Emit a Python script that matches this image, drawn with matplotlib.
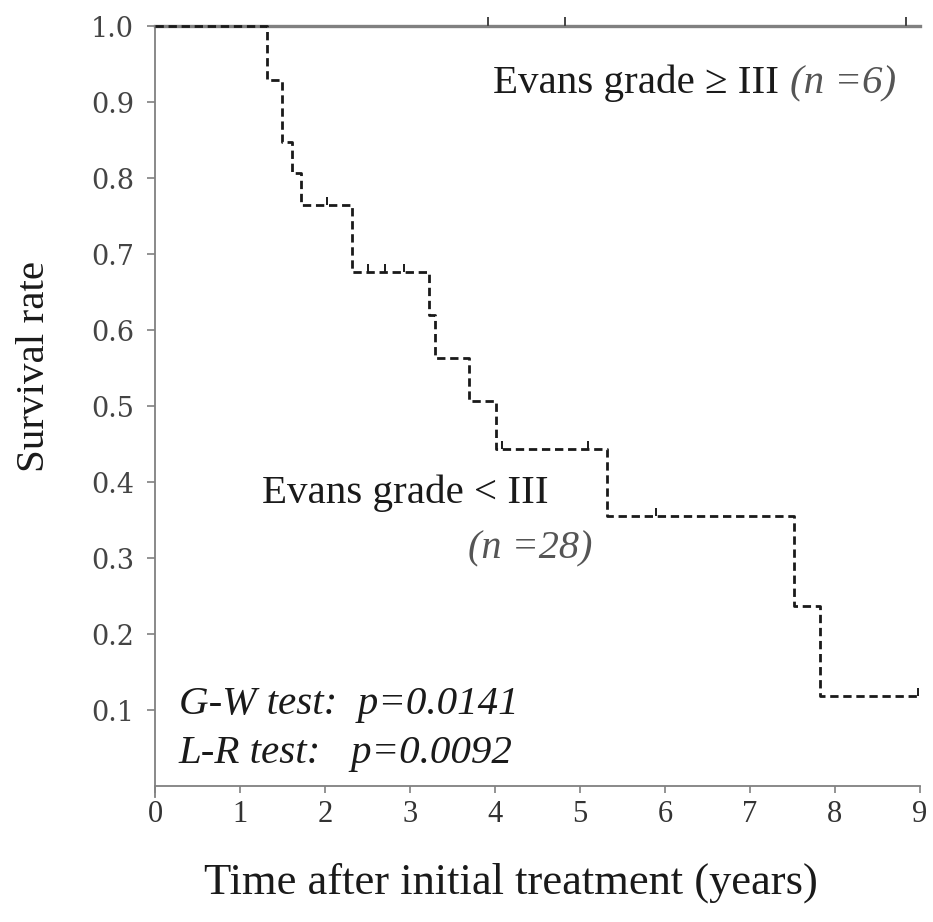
import matplotlib
matplotlib.use("Agg")
import matplotlib.pyplot as plt
import numpy as np

plt.rcParams["font.family"] = ["Liberation Serif", "DejaVu Serif"]

# Evans grade >= III (n=6): no events
high_times = [0.0, 9.0]
high_surv = [1.0, 1.0]
high_censor = [3.92, 4.82, 8.84]

# Evans grade < III (n=28): step times and survival after each step
low_times = [0.0, 1.32, 1.50, 1.61, 1.72, 2.32, 3.22, 3.30, 3.70, 4.01, 5.32, 7.52, 7.82]
low_surv = [1.0, 0.929, 0.848, 0.806, 0.764, 0.676, 0.620, 0.563, 0.506, 0.443, 0.355, 0.237, 0.118]
low_end = 9.0
low_censor = [2.02, 2.51, 2.71, 2.93, 4.08, 5.10, 5.90, 8.98]

x_ticks = list(range(0, 10))
y_ticks = [0.1, 0.2, 0.3, 0.4, 0.5, 0.6, 0.7, 0.8, 0.9, 1.0]

AXIS_COLOR = "#808080"
LINE_DARK = "#1a1a1a"
TEXT_COLOR = "#1a1a1a"
ITALIC_COLOR = "#555555"


def surv_at(times, surv, t):
    idx = np.searchsorted(times, t, side="right") - 1
    return np.asarray(surv)[idx]


fig = plt.figure(figsize=(9.33, 9.22), dpi=100)
ax = fig.add_axes([0.1661, 0.1351, 0.8199, 0.8367])
ax.set_xlim(0, 9)
ax.set_ylim(-0.015, 1.0)

# grade >= III : grey solid line
ax.step(high_times, high_surv, where="post", color=AXIS_COLOR, lw=2.4,
        clip_on=False, zorder=2)
hy = surv_at(high_times, high_surv, high_censor)
ax.vlines(high_censor, hy, hy + 0.012, color="#444444", lw=1.4, clip_on=False, zorder=3)

# grade < III : dashed step line
ax.step(low_times + [low_end], low_surv + [low_surv[-1]], where="post",
        color=LINE_DARK, lw=2.0, dashes=(3.0, 1.7), clip_on=False, zorder=4)
ly = surv_at(low_times, low_surv, low_censor)
ax.vlines(low_censor, ly, ly + 0.011, color=LINE_DARK, lw=1.4, clip_on=False, zorder=4)

# axes style
for side in ["top", "right"]:
    ax.spines[side].set_visible(False)
ax.spines["bottom"].set_position(("data", 0))
for side in ["left", "bottom"]:
    ax.spines[side].set_color(AXIS_COLOR)
    ax.spines[side].set_linewidth(1.3)

ax.set_xticks(x_ticks)
ax.set_xticklabels([str(v) for v in x_ticks], fontsize=22, color="#333333")
ax.set_yticks(y_ticks)
ax.set_yticklabels([f"{v:.1f}" for v in y_ticks], fontsize=19.5, color="#444444",
                   family=["DejaVu Serif"])
ax.tick_params(axis="x", direction="out", length=5, width=1.2, color=AXIS_COLOR, pad=5)
ax.tick_params(axis="y", direction="out", length=6, width=1.2, color=AXIS_COLOR, pad=9)

ax.set_ylabel("Survival rate", fontsize=29.5, color=TEXT_COLOR)
ax.yaxis.set_label_coords(-0.133, 0.559)
ax.set_xlabel("Time after initial treatment (years)", fontsize=32, color=TEXT_COLOR)
ax.xaxis.set_label_coords(0.465, -0.084)

# annotations
t1 = ax.text(3.98, 0.90, "Evans grade \u2265 III ", fontsize=29.5, color=TEXT_COLOR,
             va="bottom")
ax.annotate("(n =6)", xy=(1, 0), xycoords=t1, va="bottom", fontsize=29.5,
            style="italic", color=ITALIC_COLOR)

ax.text(1.26, 0.36, "Evans grade < III", fontsize=29.5, color=TEXT_COLOR, va="bottom")
ax.text(3.68, 0.288, "(n =28)", fontsize=29, style="italic", color=ITALIC_COLOR,
        va="bottom")

ax.text(0.28, 0.083, "G-W test:  p=0.0141", fontsize=29.5, style="italic",
        color=TEXT_COLOR, va="bottom")
ax.text(0.28, 0.018, "L-R test:   p=0.0092", fontsize=29.5, style="italic",
        color=TEXT_COLOR, va="bottom")

fig.savefig("out.png", dpi=100, facecolor="white")
